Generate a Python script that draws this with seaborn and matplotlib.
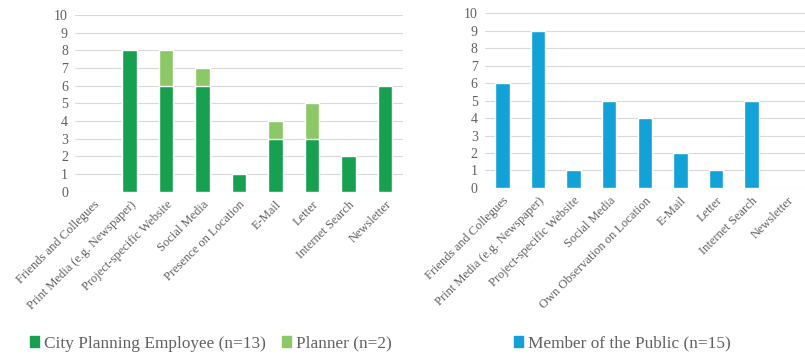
import matplotlib
matplotlib.use("Agg")
import matplotlib.pyplot as plt
import seaborn as sns
import pandas as pd
from matplotlib.patches import Patch

# datos
cats_izq = ["Friends and Collegues", "Print Media (e.g. Newspaper)", "Project-specific Website",
            "Social Media", "Presence on Location", "E-Mail", "Letter", "Internet Search", "Newsletter"]
empleado = [0, 8, 6, 6, 1, 3, 3, 2, 6]
planner = [0, 0, 2, 1, 0, 1, 2, 0, 0]

cats_der = ["Friends and Collegues", "Print Media (e.g. Newspaper)", "Project-specific Website",
            "Social Media", "Own Observation on Location", "E-Mail", "Letter", "Internet Search", "Newsletter"]
publico = [6, 9, 1, 5, 4, 2, 1, 5, 0]

y_ticks = list(range(0, 11))

verde_osc = "#16a050"
verde_cla = "#8cc865"
azul = "#12a2d8"
gris_txt = "#606060"
gris_grid = "#d9d9d9"

sns.set_theme(style="white")
plt.rcParams['font.family'] = ['Liberation Serif', 'DejaVu Serif']

fig = plt.figure(figsize=(8.05, 3.56), dpi=100)
ax1 = fig.add_axes([0.093, 0.461, 0.408, 0.497])
ax2 = fig.add_axes([0.602, 0.472, 0.398, 0.491])

df_izq = pd.DataFrame({'cat': cats_izq, 'emp': empleado,
                       'total': [a + b for a, b in zip(empleado, planner)]})
df_der = pd.DataFrame({'cat': cats_der, 'pub': publico})

sns.barplot(data=df_izq, x='cat', y='total', color=verde_cla, width=0.4, saturation=1, ax=ax1)
sns.barplot(data=df_izq, x='cat', y='emp', color=verde_osc, width=0.4, saturation=1, ax=ax1)
sns.barplot(data=df_der, x='cat', y='pub', color=azul, width=0.4, saturation=1, ax=ax2)

for ax, cats in [(ax1, cats_izq), (ax2, cats_der)]:
    ax.set_ylim(0, 10)
    ax.set_yticks(y_ticks)
    ax.set_xlim(-0.5, len(cats) - 0.5)
    ax.set_xlabel('')
    ax.set_ylabel('')
    ax.grid(axis='y', color=gris_grid, linewidth=0.8)
    ax.set_axisbelow(True)
    for s in ax.spines.values():
        s.set_visible(False)
    ax.tick_params(axis='both', length=0, colors=gris_txt, labelsize=10, pad=5)
    ax.set_xticks(range(len(cats)))
    ax.set_xticklabels(cats, rotation=45, ha='right', rotation_mode='anchor', fontsize=9)

fig.legend(handles=[Patch(color=verde_osc, label='City Planning Employee (n=13)'),
                    Patch(color=verde_cla, label='Planner (n=2)')],
           loc='center', bbox_to_anchor=(0.262, 0.035), ncol=2, frameon=False,
           fontsize=12.4, handlelength=0.55, handleheight=0.55, handletextpad=0.3,
           columnspacing=0.9, labelcolor=gris_txt)
fig.legend(handles=[Patch(color=azul, label='Member of the Public (n=15)')],
           loc='center', bbox_to_anchor=(0.773, 0.035), frameon=False,
           fontsize=12.4, handlelength=0.55, handleheight=0.55, handletextpad=0.3,
           labelcolor=gris_txt)

fig.savefig("out.png", dpi=100)
